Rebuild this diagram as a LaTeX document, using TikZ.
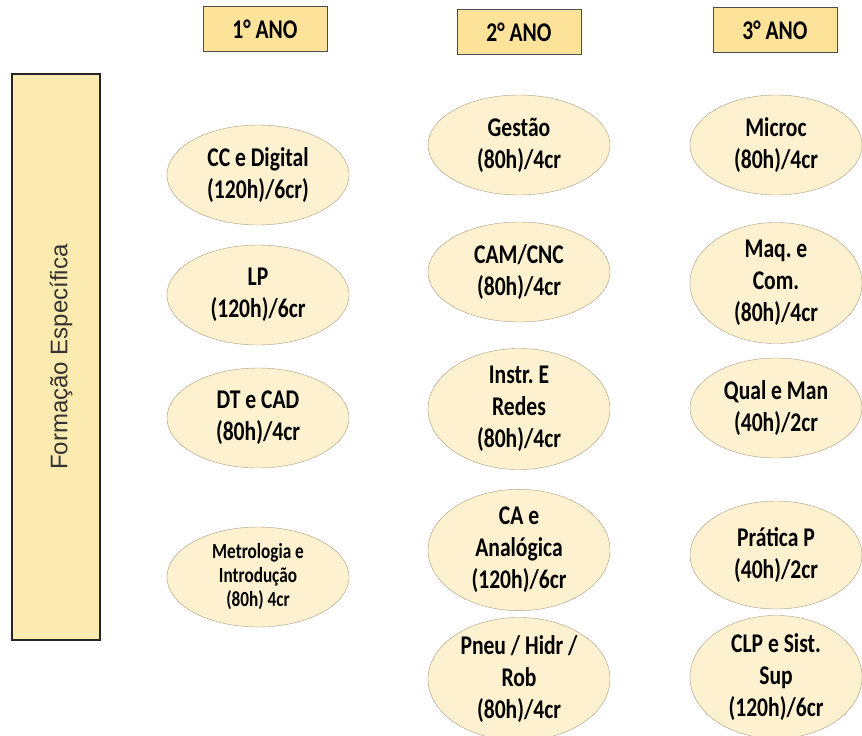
\documentclass[tikz,border=0pt]{standalone}
\usepackage{fontspec}
\setmainfont{Carlito}
\newfontfamily\discfont{Carlito}[FakeStretch=0.8]
\newfontfamily\sidefont{Liberation Sans}
\usetikzlibrary{positioning,shapes}
\frenchspacing

\definecolor{discfill}{HTML}{FDF1CF}
\definecolor{discline}{HTML}{A89C82}
\definecolor{anofill}{HTML}{FDE39A}
\definecolor{sidefill}{HTML}{FCEBB0}

\begin{document}
\begin{tikzpicture}[x=1pt,y=-1pt,
    disc/.style={draw=discline,fill=discfill,ellipse,minimum width=182pt,minimum height=100pt,inner sep=0pt,align=center,font=\discfont\fontsize{27}{32}\selectfont\bfseries},
    ano/.style={draw=black!70,fill=anofill,rectangle,minimum width=124pt,minimum height=45pt,font=\discfont\fontsize{27}{30}\selectfont\bfseries}]
    \useasboundingbox (0,0) rectangle (862,736);

    % anos
    \node[ano] (ano1) at (265,29) {1° ANO};
    \node[ano] (ano2) at (519,32) {2° ANO};
    \node[ano] (ano3) at (775,30) {3° ANO};

    \node[draw=black!85,very thick,fill=sidefill,minimum width=88pt,minimum height=566pt] (esp) at (56,357) {};
    \node[rotate=90,font=\sidefont\fontsize{24}{28}\selectfont,text=black!80] (esplabel) at ([xshift=5pt]esp.center) {Formação Específica};

    % 1o ano
    \node[disc] (ccdig) at (258,175) {CC e Digital\\(120h)/6cr)};
    \node[disc] (lp) at (258,295) {LP\\(120h)/6cr};
    \node[disc] (dtcad) at (258,418) {DT e CAD\\(80h)/4cr};
    \node[disc,font=\discfont\fontsize{21.5}{24}\selectfont\bfseries] (metro) at (258,577) {Metrologia e\\Introdução\\(80h) 4cr};

    % 2o ano
    \node[disc] (gestao) at (519,145) {Gestão\\(80h)/4cr};
    \node[disc] (camcnc) at (519,272) {CAM/CNC\\(80h)/4cr};
    \node[disc,minimum height=106pt] (instr) at (519,409) {Instr. E\\Redes\\(80h)/4cr};
    \node[disc,minimum height=102pt] (caanal) at (519,550) {CA e\\Analógica\\(120h)/6cr};
    \node[disc,minimum height=104pt] (pneu) at (519,679) {Pneu / Hidr /\\Rob\\(80h)/4cr};

    % 3o ano
    \node[disc,minimum width=172pt] (microc) at (776,145) {Microc\\(80h)/4cr};
    \node[disc,minimum width=172pt,minimum height=104pt] (maq) at (776,283) {Maq. e\\Com.\\(80h)/4cr};
    \node[disc,minimum width=172pt] (qual) at (776,408) {Qual e Man\\(40h)/2cr};
    \node[disc,minimum width=172pt,minimum height=108pt] (pratica) at (776,555) {Prática P\\(40h)/2cr};
    \node[disc,minimum width=172pt,minimum height=104pt] (clp) at (776,677) {CLP e Sist.\\Sup\\(120h)/6cr};
\end{tikzpicture}
\end{document}
